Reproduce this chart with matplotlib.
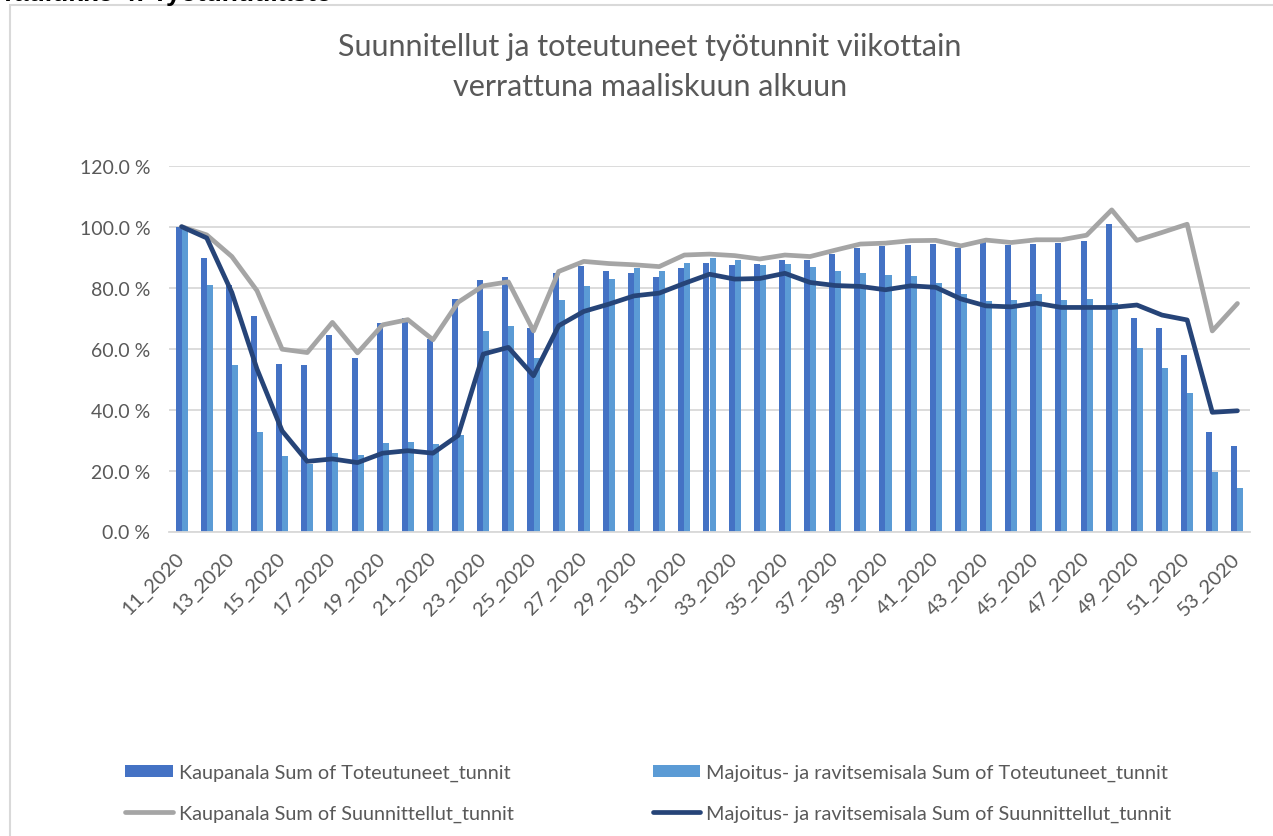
import matplotlib
matplotlib.use("Agg")
import matplotlib.pyplot as plt
from matplotlib.patches import Rectangle, Patch
from matplotlib.lines import Line2D
import matplotlib.transforms as mtransforms
import numpy as np

weeks = [f"{w}_2020" for w in range(11, 54)]

kauppa_toteutuneet = [100, 89.7, 81, 70.8, 54.9, 54.5, 64.4, 56.9, 68.3, 69.9,
                      63.1, 76.3, 82.5, 83.5, 66.9, 84.8, 87.2, 85.3, 84.8, 83.5,
                      86.6, 88.0, 87.3, 87.7, 89.1, 89.0, 91.0, 93.0, 93.5, 94.0,
                      94.3, 93.0, 95.9, 94.0, 94.3, 94.7, 95.4, 100.8, 69.9, 66.6,
                      57.9, 32.5, 28.1]
majoitus_toteutuneet = [99.5, 81.0, 54.6, 32.6, 24.8, 22.3, 25.7, 25.0, 28.9, 29.2,
                        28.8, 31.5, 65.8, 67.4, 56.8, 76.0, 80.6, 82.8, 86.3, 85.4,
                        88.0, 89.7, 89.0, 87.3, 87.7, 86.9, 85.4, 84.7, 84.3, 83.9,
                        81.4, 77.9, 75.7, 76.0, 77.9, 76.0, 76.4, 74.8, 60.1, 53.5,
                        45.4, 19.6, 14.2]
kauppa_suunnitellut = [100, 97.3, 90.2, 79.0, 59.8, 58.7, 68.6, 58.6, 67.8, 69.5,
                       62.9, 75.2, 80.6, 81.9, 65.8, 85.3, 88.6, 87.9, 87.5, 86.9,
                       90.7, 91.0, 90.5, 89.4, 90.7, 90.2, 92.3, 94.3, 94.6, 95.4,
                       95.5, 93.7, 95.6, 94.8, 95.7, 95.7, 97.2, 105.5, 95.5, 98.1,
                       100.8, 65.8, 74.8]
majoitus_suunnitellut = [100, 96.3, 78.4, 53.3, 33.0, 23.0, 23.8, 22.6, 25.7, 26.5,
                         25.7, 31.5, 58.2, 60.4, 51.1, 67.5, 72.2, 74.6, 77.3, 78.2,
                         81.4, 84.4, 82.8, 83.0, 84.7, 81.7, 80.7, 80.4, 79.3, 80.6,
                         80.1, 76.3, 74.0, 73.7, 74.9, 73.5, 73.5, 73.5, 74.3, 71.0,
                         69.4, 39.1, 39.6]

labels = ["Kaupanala Sum of Toteutuneet_tunnit",
          "Majoitus- ja ravitsemisala Sum of Toteutuneet_tunnit",
          "Kaupanala Sum of Suunnittellut_tunnit",
          "Majoitus- ja ravitsemisala Sum of Suunnittellut_tunnit"]

c_dark = "#4472C4"
c_light = "#5B9BD5"
c_gray = "#A5A5A5"
c_navy = "#264478"
txt = "#595959"

plt.rcParams['font.family'] = ['Lato', 'DejaVu Sans']

W, H = 1273, 837
fig = plt.figure(figsize=(W / 100, H / 100), dpi=100)

# chart border (only top & left visible)
fig.patches.append(Rectangle((10 / W, -0.05), 1.1, 1.05 - 6 / H, transform=fig.transFigure,
                             fill=False, edgecolor="#D9D9D9", linewidth=1.5))
fig.text(0.0, 1 - 1.5 / H, "Taulukko 4: Työtuntitilasto", fontsize=19, fontweight="bold",
         color="black", ha="left", va="baseline", family=["Liberation Sans", "DejaVu Sans"])

ax = fig.add_axes([169 / W, 1 - 532.5 / H, (1250 - 169) / W, (532.5 - 166.7) / H])
x = np.arange(len(weeks))
bw = 0.24
ax.bar(x - bw / 2, kauppa_toteutuneet, width=bw, color=c_dark, zorder=2)
ax.bar(x + bw / 2, majoitus_toteutuneet, width=bw, color=c_light, zorder=2)
ax.plot(x, kauppa_suunnitellut, color=c_gray, lw=3.4, zorder=3, solid_capstyle="round")
ax.plot(x, majoitus_suunnitellut, color=c_navy, lw=3.4, zorder=4, solid_capstyle="round")

ax.set_xlim(-0.5, len(weeks) - 0.5)
ax.set_ylim(0, 120)
yt = np.arange(0, 121, 20)
ax.set_yticks(yt)
ax.set_yticklabels([f"{v:.1f} %" for v in yt], fontsize=14, color=txt)
ax.set_xticks(x[::2])
ax.set_xticklabels(weeks[::2], rotation=45, ha="right", va="center", rotation_mode="anchor",
                   fontsize=14.5, color=txt)
offset = mtransforms.ScaledTranslation(2 / 72, 0, fig.dpi_scale_trans)
for lab in ax.get_xticklabels():
    lab.set_transform(lab.get_transform() + offset)
ax.tick_params(axis="both", length=0)
ax.tick_params(axis="y", pad=13.5)
ax.tick_params(axis="x", pad=17)
ax.grid(axis="y", color="#D9D9D9", linewidth=1.3, zorder=0)
ax.set_axisbelow(True)
for s in ["top", "right", "left"]:
    ax.spines[s].set_visible(False)
ax.spines["bottom"].set_color("#D9D9D9")
ax.spines["bottom"].set_linewidth(1.3)

fig.text(650 / W, 1 - 47 / H, "Suunnitellut ja toteutuneet työtunnit viikottain",
         fontsize=22, color=txt, ha="center", va="center")
fig.text(650 / W, 1 - 87 / H, "verrattuna maaliskuun alkuun",
         fontsize=22, color=txt, ha="center", va="center")

handles = [Patch(facecolor=c_dark),
           Line2D([0], [0], color=c_gray, lw=3.4, solid_capstyle="round"),
           Patch(facecolor=c_light),
           Line2D([0], [0], color=c_navy, lw=3.4, solid_capstyle="round")]
leg_labels = [labels[0], labels[2], labels[1], labels[3]]
leg = fig.legend(handles, leg_labels, ncol=2, loc="upper left",
                 bbox_to_anchor=(125 / W, 1 - 765 / H),
                 frameon=False, fontsize=14.3, labelcolor=txt, columnspacing=7.0,
                 handlelength=2.4, handleheight=0.6, handletextpad=0.3,
                 labelspacing=1.2, borderpad=0, borderaxespad=0)

fig.savefig("out.png", dpi=100)
